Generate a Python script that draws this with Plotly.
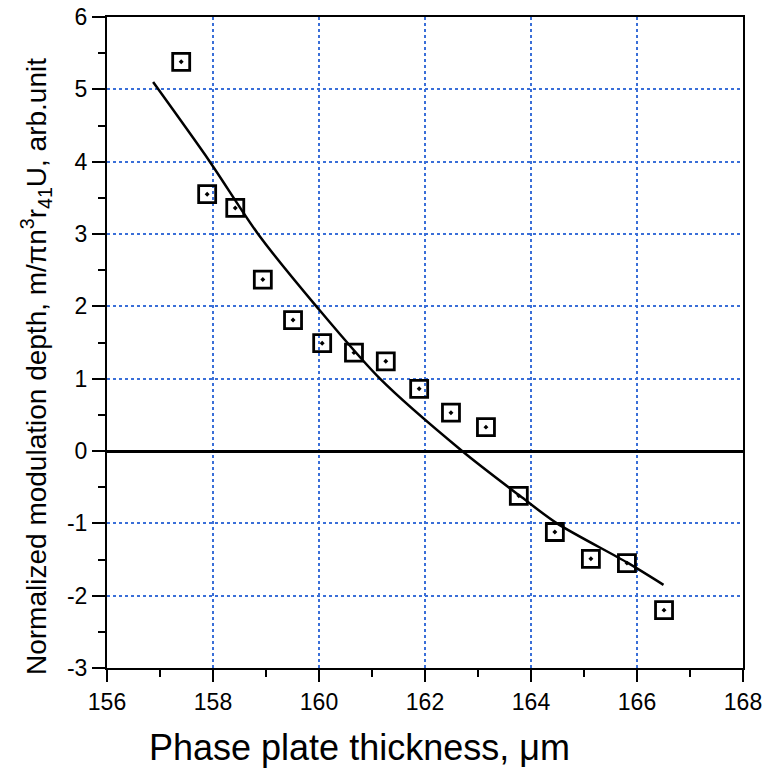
import plotly.graph_objects as go

# measured data points
thickness = [157.40, 157.89, 158.42, 158.94, 159.51, 160.06, 160.66, 161.26,
             161.89, 162.49, 163.15, 163.77, 164.45, 165.13, 165.81, 166.51]
depth = [5.38, 3.55, 3.36, 2.37, 1.81, 1.49, 1.36, 1.24,
         0.86, 0.53, 0.33, -0.62, -1.12, -1.49, -1.55, -2.20]

# fitted curve
fit_x = [156.87, 157.94, 158.85, 159.95, 161.15, 162.70, 163.79, 164.49, 165.81, 166.50]
fit_y = [5.10, 4.00, 3.00, 2.00, 1.00, 0.00, -0.62, -1.00, -1.54, -1.85]

x_ticks = [156, 158, 160, 162, 164, 166, 168]
y_ticks = [-3, -2, -1, 0, 1, 2, 3, 4, 5, 6]

x_title = "Phase plate thickness, μm"
y_title = "Normalized modulation depth, m/πn<sup>3</sup>r<sub>41</sub>U, arb.unit"

W, H = 765, 776
L, R, T, B = 107, 22, 17, 108
pw, ph = W - L - R, H - T - B

fig = go.Figure()
fig.add_trace(go.Scatter(x=fit_x, y=fit_y, mode="lines",
                         line=dict(color="black", width=2.5, shape="spline", smoothing=0.8),
                         hoverinfo="skip", showlegend=False))
fig.add_trace(go.Scatter(x=thickness, y=depth, mode="markers",
                         marker=dict(symbol="square-open-dot", size=17, color="black",
                                     line=dict(color="black", width=2.8)),
                         showlegend=False))

font_family = "Liberation Sans, Arial, sans-serif"
fig.update_layout(
    width=W, height=H,
    margin=dict(l=L, r=R, t=T, b=B, autoexpand=False),
    paper_bgcolor="white", plot_bgcolor="white",
    font=dict(family=font_family, color="black", size=23),
)
fig.update_xaxes(
    range=[156, 168], tickvals=x_ticks, ticktext=[str(v) for v in x_ticks],
    automargin=False,
    showgrid=True, gridcolor="#3a6fd8", griddash="dot", gridwidth=1.5,
    showline=True, linecolor="black", linewidth=2, mirror=True,
    ticks="outside", ticklen=12, tickwidth=2, tickcolor="black",
    minor=dict(dtick=1, ticks="outside", ticklen=7, tickwidth=2, tickcolor="black", showgrid=False),
    zeroline=False,
    tickfont=dict(size=23),
)
fig.update_yaxes(
    range=[-3, 6], tickvals=y_ticks, ticktext=[str(v) for v in y_ticks],
    automargin=False,
    showgrid=True, gridcolor="#3a6fd8", griddash="dot", gridwidth=1.5,
    showline=True, linecolor="black", linewidth=2, mirror=True,
    ticks="outside", ticklen=13, tickwidth=2, tickcolor="black",
    minor=dict(dtick=0.5, ticks="outside", ticklen=7, tickwidth=2, tickcolor="black", showgrid=False),
    zeroline=True, zerolinecolor="black", zerolinewidth=2.5,
    tickfont=dict(size=23),
)
fig.add_annotation(text=x_title, xref="paper", yref="paper",
                   x=(359 - L) / pw, y=-(747 - (H - B)) / ph,
                   xanchor="center", yanchor="middle", showarrow=False,
                   font=dict(size=36, color="black"))
fig.add_annotation(text=y_title, xref="paper", yref="paper",
                   x=-(L - 36) / pw, y=((H - B) - 367) / ph, textangle=-90,
                   xanchor="center", yanchor="middle", showarrow=False,
                   font=dict(size=28, color="black"))

fig.write_html("out.html")
